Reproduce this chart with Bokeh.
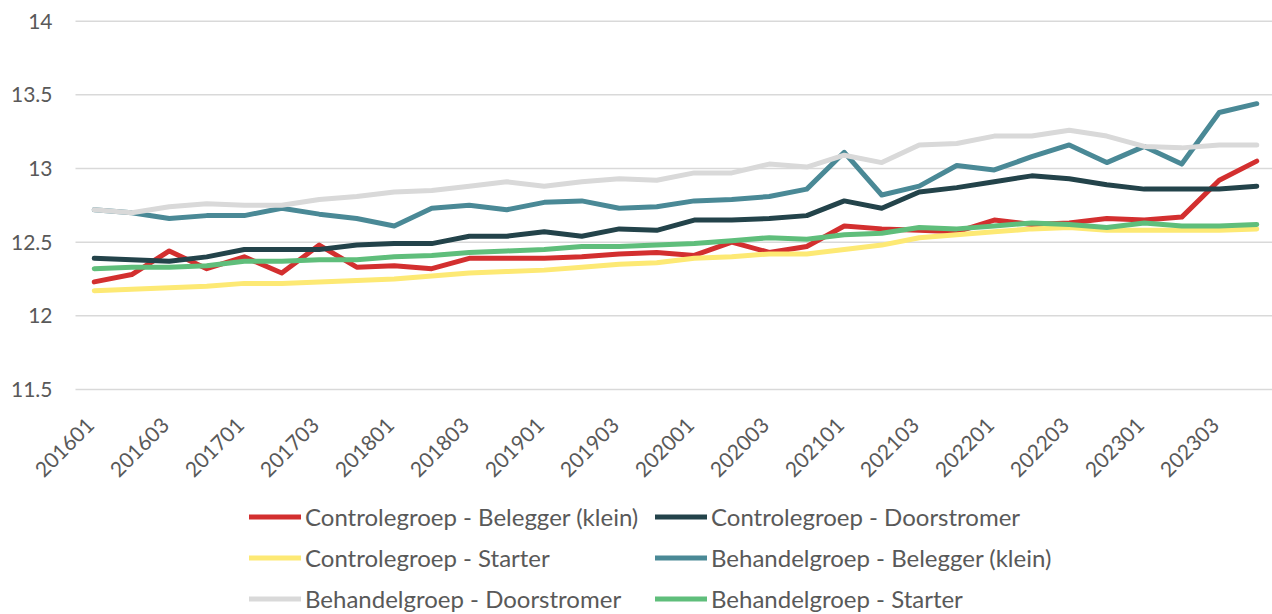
import math
from bokeh.plotting import figure
from bokeh.models import Legend, LegendItem, Range1d
from bokeh.core.properties import value
from bokeh.embed import file_html
from bokeh.resources import INLINE

periods = [f"{y}{q:02d}" for y in range(2016, 2024) for q in range(1, 5)]

ctrl_belegger = [12.23, 12.28, 12.44, 12.32, 12.40, 12.29, 12.48, 12.33,
                 12.34, 12.32, 12.39, 12.39, 12.39, 12.40, 12.42, 12.43,
                 12.41, 12.50, 12.43, 12.47, 12.61, 12.59, 12.58, 12.57,
                 12.65, 12.62, 12.63, 12.66, 12.65, 12.67, 12.92, 13.05]
ctrl_doorstromer = [12.39, 12.38, 12.37, 12.40, 12.45, 12.45, 12.45, 12.48,
                    12.49, 12.49, 12.54, 12.54, 12.57, 12.54, 12.59, 12.58,
                    12.65, 12.65, 12.66, 12.68, 12.78, 12.73, 12.84, 12.87,
                    12.91, 12.95, 12.93, 12.89, 12.86, 12.86, 12.86, 12.88]
ctrl_starter = [12.17, 12.18, 12.19, 12.20, 12.22, 12.22, 12.23, 12.24,
                12.25, 12.27, 12.29, 12.30, 12.31, 12.33, 12.35, 12.36,
                12.39, 12.40, 12.42, 12.42, 12.45, 12.48, 12.53, 12.55,
                12.57, 12.59, 12.60, 12.58, 12.58, 12.58, 12.58, 12.59]
beh_belegger = [12.72, 12.70, 12.66, 12.68, 12.68, 12.73, 12.69, 12.66,
                12.61, 12.73, 12.75, 12.72, 12.77, 12.78, 12.73, 12.74,
                12.78, 12.79, 12.81, 12.86, 13.11, 12.82, 12.88, 13.02,
                12.99, 13.08, 13.16, 13.04, 13.15, 13.03, 13.38, 13.44]
beh_doorstromer = [12.72, 12.70, 12.74, 12.76, 12.75, 12.75, 12.79, 12.81,
                   12.84, 12.85, 12.88, 12.91, 12.88, 12.91, 12.93, 12.92,
                   12.97, 12.97, 13.03, 13.01, 13.09, 13.04, 13.16, 13.17,
                   13.22, 13.22, 13.26, 13.22, 13.15, 13.14, 13.16, 13.16]
beh_starter = [12.32, 12.33, 12.33, 12.34, 12.37, 12.37, 12.38, 12.38,
               12.40, 12.41, 12.43, 12.44, 12.45, 12.47, 12.47, 12.48,
               12.49, 12.51, 12.53, 12.52, 12.55, 12.56, 12.60, 12.59,
               12.61, 12.63, 12.62, 12.60, 12.63, 12.61, 12.61, 12.62]

series_names = ["Controlegroep - Belegger (klein)", "Controlegroep - Doorstromer",
                "Controlegroep - Starter", "Behandelgroep - Belegger (klein)",
                "Behandelgroep - Doorstromer", "Behandelgroep - Starter"]
series_values = [ctrl_belegger, ctrl_doorstromer, ctrl_starter,
                 beh_belegger, beh_doorstromer, beh_starter]
colors = ["#D32F2F", "#23434A", "#FDE974", "#4A8996", "#D9D9D9", "#5FBE7B"]

y_ticks = [11.5, 12.0, 12.5, 13.0, 13.5, 14.0]
y_tick_labels = ["11.5", "12", "12.5", "13", "13.5", "14"]
x_tick_idx = list(range(0, len(periods), 2))
x_tick_labels = [periods[i] for i in x_tick_idx]

FONT = "Lato"
TXT = "#595959"

# frame covers the whole canvas; ranges chosen so the plot area sits where
# Excel put it (category spacing 37.5 px, 0.5 units = 73.65 px)
p = figure(width=1272, height=614, output_backend="svg", toolbar_location=None,
           x_range=Range1d(-2.5, 31.42), y_range=Range1d(9.972, 14.1405),
           x_axis_location=None, y_axis_location=None,
           min_border=0, min_border_left=0, min_border_right=0,
           min_border_top=0, min_border_bottom=0)
p.outline_line_color = None
p.background_fill_color = "white"
p.border_fill_color = "white"
p.grid.visible = False

x_lo, x_hi = -0.5, 31.42
n_y = len(y_ticks)
# horizontal gridlines
p.segment(x0=[x_lo] * n_y, x1=[x_hi] * n_y, y0=y_ticks, y1=y_ticks,
          line_color="#D9D9D9", line_width=1.5)

# y tick labels
p.text(x=[x_lo] * n_y, y=y_ticks, text=y_tick_labels, text_align="right",
       text_baseline="middle", x_offset=-23, text_font=value(FONT),
       text_font_size="21px", text_color=TXT)

# x tick labels (rotated 45 degrees)
p.text(x=x_tick_idx, y=[y_ticks[0]] * len(x_tick_idx), text=x_tick_labels,
       angle=math.pi / 4, text_align="right", text_baseline="middle",
       x_offset=-4, y_offset=32, text_font=value(FONT),
       text_font_size="21px", text_color=TXT)

x = list(range(len(periods)))
renderers = []
for name, vals, col in zip(series_names, series_values, colors):
    r = p.line(x, vals, line_color=col, line_width=5, line_cap="round",
               line_join="round")
    renderers.append(r)


def make_legend(idx, loc):
    return Legend(items=[LegendItem(label=series_names[i], renderers=[renderers[i]])
                         for i in idx],
                  location=loc, orientation="vertical", padding=0, margin=0,
                  spacing=0, glyph_width=52, glyph_height=41, label_height=41,
                  label_standoff=4, border_line_color=None,
                  background_fill_alpha=0, label_text_font=FONT,
                  label_text_font_size="24px", label_text_color=TXT)


p.add_layout(make_legend([0, 2, 4], (249, -5)), "center")
p.add_layout(make_legend([1, 3, 5], (655, -5)), "center")

open("out.html", "w").write(file_html(p, INLINE))
